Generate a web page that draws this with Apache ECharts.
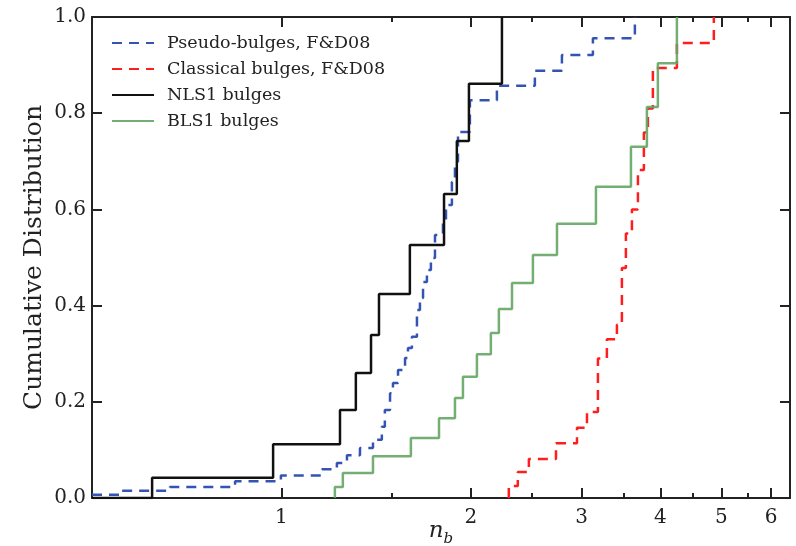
<!DOCTYPE html>
<html>
<head>
<meta charset="utf-8">
<script src="https://cdn.jsdelivr.net/npm/echarts@6/dist/echarts.min.js"></script>
<style>
  html, body { margin: 0; padding: 0; background: #fff; }
  #chart { width: 796px; height: 546px; }
</style>
</head>
<body>
<div id="chart"></div>
<script>
// x axis is n_b on a log scale
const xMin = 0.5;
const xMax = 6.43;
const xTicks = [1, 2, 3, 4, 5, 6];
const xMinorTicks = [1.5, 2.5, 3.5, 4.5, 5.5];

// step positions (n_b) and cumulative level after each step
const pseudoN   = [0.5, 0.558, 0.665, 0.844, 0.998, 1.160, 1.225, 1.271, 1.333, 1.398, 1.444, 1.460, 1.488, 1.504, 1.532, 1.572, 1.589, 1.612, 1.642, 1.660, 1.679, 1.703, 1.728, 1.754, 1.806, 1.826, 1.866, 1.887, 1.908, 1.993, 2.200, 2.528, 2.791, 3.126, 3.645];
const pseudoCum = [0.007, 0.015, 0.023, 0.035, 0.047, 0.060, 0.073, 0.089, 0.104, 0.121, 0.148, 0.183, 0.218, 0.239, 0.266, 0.291, 0.312, 0.335, 0.391, 0.416, 0.449, 0.474, 0.499, 0.547, 0.578, 0.609, 0.657, 0.699, 0.761, 0.827, 0.857, 0.888, 0.921, 0.956, 1.0];

const classicalN   = [2.298, 2.298, 2.375, 2.473, 2.731, 2.949, 3.059, 3.184, 3.290, 3.413, 3.476, 3.527, 3.606, 3.686, 3.767, 3.823, 3.893, 4.251, 4.866];
const classicalCum = [0, 0.025, 0.054, 0.081, 0.114, 0.146, 0.179, 0.290, 0.330, 0.360, 0.478, 0.550, 0.600, 0.682, 0.760, 0.810, 0.894, 0.946, 1.0];

const nls1N   = [0.5, 0.623, 0.970, 1.239, 1.313, 1.388, 1.429, 1.600, 1.813, 1.900, 1.986, 2.241];
const nls1Cum = [0, 0.042, 0.112, 0.183, 0.260, 0.339, 0.424, 0.526, 0.632, 0.742, 0.861, 1.0];

const bls1N   = [1.216, 1.216, 1.252, 1.398, 1.606, 1.780, 1.887, 1.943, 2.045, 2.152, 2.216, 2.325, 2.510, 2.741, 3.161, 3.593, 3.809, 3.965, 4.251];
const bls1Cum = [0, 0.023, 0.052, 0.087, 0.125, 0.166, 0.208, 0.252, 0.299, 0.343, 0.393, 0.447, 0.505, 0.570, 0.647, 0.730, 0.813, 0.904, 1.0];

const lg = v => Math.log10(v);
const toData = (xs, ys) => xs.map((x, i) => [lg(x), ys[i]]);

const serif = 'DejaVu Serif';
const ink = '#222';

function xAxisDef(pos, major, showLine) {
    return {
        type: 'value',
        position: pos,
        min: lg(xMin),
        max: lg(xMax),
        axisLine: { show: showLine, onZero: false, lineStyle: { color: ink, width: 2 } },
        axisTick: {
            show: true, inside: true, length: major ? 10 : 5,
            customValues: (major ? xTicks : xMinorTicks).map(lg),
            lineStyle: { color: ink, width: 2 }
        },
        axisLabel: {
            show: pos === 'bottom' && major,
            customValues: xTicks.map(lg),
            formatter: v => String(Math.round(Math.pow(10, v))),
            margin: 10,
            fontFamily: serif, fontSize: 20, color: ink
        },
        splitLine: { show: false }
    };
}

function yAxisDef(pos) {
    return {
        type: 'value',
        position: pos,
        min: 0, max: 1, interval: 0.2,
        axisLine: { show: true, onZero: false, lineStyle: { color: ink, width: 2 } },
        axisTick: { inside: true, length: 10, lineStyle: { color: ink, width: 2 } },
        axisLabel: {
            show: pos === 'left',
            formatter: v => v.toFixed(1),
            margin: 6, fontFamily: serif, fontSize: 20, color: ink
        },
        splitLine: { show: false }
    };
}

var myChart = echarts.init(document.getElementById('chart'));
myChart.setOption({
    animation: false,
    grid: { left: 92, right: 6, top: 17, bottom: 48, outerBoundsMode: 'none' },
    legend: {
        orient: 'vertical',
        left: 106,
        top: 29,
        itemWidth: 42,
        itemHeight: 14,
        itemGap: 8,
        itemStyle: { opacity: 0 },
        textStyle: { fontFamily: serif, fontSize: 17.5, color: ink, padding: [0, 0, 0, 8] },
        data: ['Pseudo-bulges, F&D08', 'Classical bulges, F&D08', 'NLS1 bulges', 'BLS1 bulges']
    },
    xAxis: [
        Object.assign(xAxisDef('bottom', true, true), {
            name: '{i|n}{s|b}',
            nameLocation: 'middle',
            nameGap: 22,
            nameMoveOverlap: false,
            nameTextStyle: {
                rich: {
                    i: { fontFamily: serif, fontStyle: 'italic', fontSize: 23, color: ink, verticalAlign: 'top' },
                    s: { fontFamily: serif, fontStyle: 'italic', fontSize: 15, color: ink, verticalAlign: 'top', padding: [12, 0, 0, 0] }
                }
            }
        }),
        xAxisDef('bottom', false, false),
        xAxisDef('top', true, true),
        xAxisDef('top', false, false)
    ],
    yAxis: [
        Object.assign(yAxisDef('left'), {
            name: 'Cumulative Distribution',
            nameLocation: 'middle',
            nameGap: 45,
            nameMoveOverlap: false,
            nameTextStyle: { fontFamily: serif, fontSize: 25, color: ink }
        }),
        yAxisDef('right')
    ],
    series: [{
        name: 'Pseudo-bulges, F&D08',
        type: 'line',
        step: 'end',
        symbol: 'none',
        data: toData(pseudoN, pseudoCum),
        itemStyle: { color: '#3454b4' },
        lineStyle: { color: '#3454b4', width: 2.5, type: [10, 7] }
    }, {
        name: 'Classical bulges, F&D08',
        type: 'line',
        step: 'end',
        symbol: 'none',
        data: toData(classicalN, classicalCum),
        itemStyle: { color: '#ff1e1e' },
        lineStyle: { color: '#ff1e1e', width: 2.5, type: [10, 7] }
    }, {
        name: 'NLS1 bulges',
        type: 'line',
        step: 'end',
        symbol: 'none',
        data: toData(nls1N, nls1Cum),
        itemStyle: { color: '#111' },
        lineStyle: { color: '#111', width: 2.5 }
    }, {
        name: 'BLS1 bulges',
        type: 'line',
        step: 'end',
        symbol: 'none',
        data: toData(bls1N, bls1Cum),
        itemStyle: { color: 'rgba(100,165,100,0.9)' },
        lineStyle: { color: 'rgba(100,165,100,0.9)', width: 2.5 }
    }]
});
</script>
</body>
</html>
